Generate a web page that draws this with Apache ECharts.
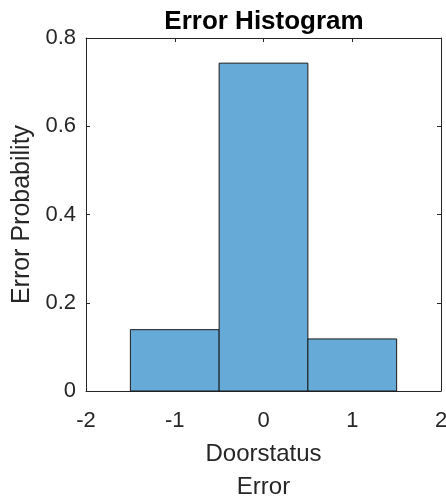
<!DOCTYPE html>
<html>
<head>
<meta charset="utf-8">
<script src="https://cdn.jsdelivr.net/npm/echarts@6/dist/echarts.min.js"></script>
<style>html,body{margin:0;padding:0;background:#fff}#c{width:446px;height:497px}</style>
</head>
<body>
<div id="c"></div>
<script>
const binCenters = [-1, 0, 1];
const probabilities = [0.139, 0.743, 0.118];
const xTicks = [-2, -1, 0, 1, 2];
const yTicks = [0, 0.2, 0.4, 0.6, 0.8];

const FONT = 'Liberation Sans, Arial, sans-serif';
const AX = '#262626';
const chart = echarts.init(document.getElementById('c'));
const common = {
  axisLine: {show: true, onZero: false, lineStyle: {color: AX, width: 1}},
  axisTick: {show: true, inside: true, length: 4, lineStyle: {color: AX}},
  splitLine: {show: false}
};
chart.setOption({
  animation: false,
  title: {
    text: 'Error Histogram', left: 259, top: 4, textAlign: 'center',
    textStyle: {fontFamily: FONT, fontWeight: 'bold', fontSize: 26, color: '#000'}
  },
  grid: {left: 86, top: 38, right: 5, bottom: 106, outerBoundsMode: 'none', containLabel: false},
  xAxis: [
    Object.assign({}, common, {
      type: 'value', min: -2, max: 2, interval: 1, position: 'bottom',
      axisLabel: {fontFamily: FONT, fontSize: 22, color: AX, margin: 19, formatter: v => String(v)},
      name: 'Doorstatus\nError', nameLocation: 'middle', nameGap: 47,
      nameTextStyle: {fontFamily: FONT, fontSize: 24, color: AX, lineHeight: 33}
    }),
    Object.assign({}, common, {
      type: 'value', min: -2, max: 2, interval: 1, position: 'top',
      axisLabel: {show: false}
    })
  ],
  yAxis: [
    Object.assign({}, common, {
      type: 'value', min: 0, max: 0.8, interval: 0.2, position: 'left',
      axisLabel: {fontFamily: FONT, fontSize: 22, color: AX, margin: 10, formatter: v => String(+v.toFixed(1))},
      name: 'Error Probability', nameLocation: 'middle', nameGap: 47,
      nameTextStyle: {fontFamily: FONT, fontSize: 25, color: AX}
    }),
    Object.assign({}, common, {
      type: 'value', min: 0, max: 0.8, interval: 0.2, position: 'right',
      axisLabel: {show: false}
    })
  ],
  series: [{
    type: 'custom',
    xAxisIndex: 0, yAxisIndex: 0,
    data: binCenters.map((c, i) => [c, probabilities[i]]),
    renderItem: function (params, api) {
      const c = api.value(0), h = api.value(1);
      const p0 = api.coord([c - 0.5, h]);
      const p1 = api.coord([c + 0.5, 0]);
      return {
        type: 'rect',
        shape: {x: p0[0], y: p0[1], width: p1[0] - p0[0], height: p1[1] - p0[1]},
        style: {fill: '#66AAD7', stroke: '#1a1a1a', lineWidth: 1}
      };
    }
  }]
});
</script>
</body>
</html>
